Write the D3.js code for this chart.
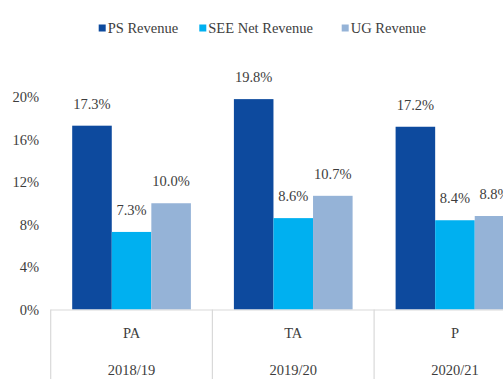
<!DOCTYPE html>
<html>
<head>
<meta charset="utf-8">
<script src="https://cdn.jsdelivr.net/npm/d3@7"></script>
<style>
  html, body { margin: 0; padding: 0; background: #fff; overflow: hidden; }
  svg text { font-family: 'Liberation Serif', 'Times New Roman', serif; }
</style>
</head>
<body>
<svg id="chart" width="503" height="379"></svg>
<script>
// Categories (two-level axis)
const categories = ["PA", "TA", "P"];
const years = ["2018/19", "2019/20", "2020/21"];

// Series (share of revenue, %)
const seriesNames = ["PS Revenue", "SEE Net Revenue", "UG Revenue"];
const psRevenue = [17.3, 19.8, 17.2];
const seeNetRevenue = [7.3, 8.6, 8.4];
const ugRevenue = [10.0, 10.7, 8.8];

// Y axis ticks (%)
const yTicks = [0, 4, 8, 12, 16, 20];

const colors = ["#0D4A9E", "#00B0F0", "#95B3D7"];
const textColor = "#3d3d3d";
const axisColor = "#d9d9d9";
const FONT = "'Liberation Serif', 'Times New Roman', serif";

const seriesValues = [psRevenue, seeNetRevenue, ugRevenue];
const rows = categories.map((c, i) => ({
  cat: c,
  year: years[i],
  values: seriesNames.map((s, k) => ({ series: s, k, value: seriesValues[k][i] }))
}));

const svg = d3.select("#chart").attr("font-family", FONT);
const fontSize = 14.5;

function styleText(sel) {
  return sel.attr("font-family", FONT)
    .attr("font-size", fontSize)
    .attr("fill", textColor);
}

const x0 = d3.scaleBand().domain(categories).range([50.7, 535.8]).padding(0);
const groupPad = 21.5;
const x1 = d3.scaleBand().domain(seriesNames)
  .range([groupPad, x0.bandwidth() - groupPad]).padding(0);
const y = d3.scaleLinear().domain([0, 20]).range([309.5, 97]);

// Y axis labels (no axis line)
const yAxis = d3.axisLeft(y).tickValues(yTicks).tickFormat(d => d + "%").tickSize(0).tickPadding(0);
const yG = svg.append("g").attr("transform", "translate(39,0)").call(yAxis);
yG.attr("font-family", FONT);
yG.select(".domain").remove();
styleText(yG.selectAll("text"));

// Bars
const groups = svg.append("g").selectAll("g").data(rows).join("g")
  .attr("transform", d => `translate(${x0(d.cat)},0)`);

groups.selectAll("rect").data(d => d.values).join("rect")
  .attr("x", d => x1(d.series))
  .attr("y", d => y(d.value))
  .attr("width", x1.bandwidth())
  .attr("height", d => y(0) - y(d.value))
  .attr("fill", d => colors[d.k]);

styleText(groups.selectAll("text.val").data(d => d.values).join("text")
  .attr("class", "val")
  .attr("x", d => x1(d.series) + x1.bandwidth() / 2)
  .attr("y", d => y(d.value) - 17)
  .attr("text-anchor", "middle")
  .text(d => d.value.toFixed(1) + "%"));

// Category axis: baseline and separators
const axisG = svg.append("g");
axisG.append("line")
  .attr("x1", x0.range()[0]).attr("x2", x0.range()[1])
  .attr("y1", y(0) + 0.5).attr("y2", y(0) + 0.5)
  .attr("stroke", axisColor).attr("stroke-width", 1.2);

const seps = categories.map(c => x0(c)).concat([x0.range()[1]]);
axisG.selectAll("line.sep").data(seps).join("line")
  .attr("class", "sep")
  .attr("x1", d => d).attr("x2", d => d)
  .attr("y1", y(0)).attr("y2", 379)
  .attr("stroke", axisColor).attr("stroke-width", 1.2);

styleText(axisG.selectAll("text.cat").data(rows).join("text")
  .attr("class", "cat")
  .attr("x", d => x0(d.cat) + x0.bandwidth() / 2)
  .attr("y", 338)
  .attr("text-anchor", "middle")
  .text(d => d.cat));

styleText(axisG.selectAll("text.year").data(rows).join("text")
  .attr("class", "year")
  .attr("x", d => x0(d.cat) + x0.bandwidth() / 2)
  .attr("y", 375)
  .attr("text-anchor", "middle")
  .text(d => d.year));

// Legend
const legendX = [98.7, 199.3, 341.7];
const legend = svg.append("g").selectAll("g").data(seriesNames).join("g")
  .attr("transform", (d, i) => `translate(${legendX[i]},28)`);
legend.append("rect")
  .attr("x", 0).attr("y", -3.5).attr("width", 7).attr("height", 7)
  .attr("fill", (d, i) => colors[i]);
styleText(legend.append("text")
  .attr("x", 9).attr("y", 5)
  .text(d => d));
</script>
</body>
</html>
